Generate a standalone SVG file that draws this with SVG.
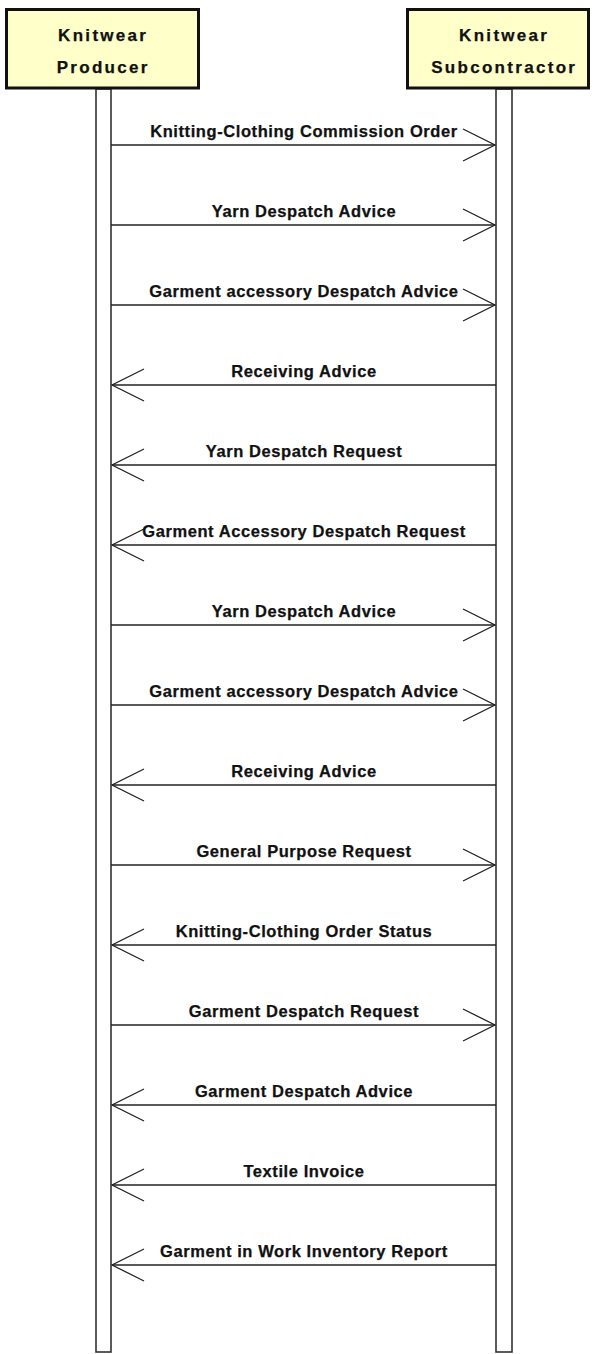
<svg xmlns="http://www.w3.org/2000/svg" width="596" height="1354" viewBox="0 0 596 1354">
<style>
.box{fill:#FFFFCA;stroke:#111;stroke-width:3}
.life{fill:#fff;stroke:#333;stroke-width:1.6}
.hd{font-family:"Liberation Sans",Arial,sans-serif;font-weight:bold;font-size:17px;letter-spacing:2.3px;fill:#111;stroke:#111;stroke-width:0.25;text-anchor:middle}
.msg{stroke:#222;stroke-width:1.6;fill:none;marker-end:url(#open)}
.lbl{font-family:"Liberation Sans",Arial,sans-serif;font-weight:bold;font-size:16.5px;letter-spacing:0.58px;fill:#111;stroke:#111;stroke-width:0.25;text-anchor:middle}
</style>
<defs>
<marker id="open" markerUnits="userSpaceOnUse" markerWidth="40" markerHeight="40" viewBox="-36 -20 40 40" refX="0" refY="0" orient="auto" overflow="visible">
<path d="M-32,-16 L0,0 L-32,16" fill="none" stroke="#222" stroke-width="1.3"/>
</marker>
</defs>
<rect width="596" height="1354" fill="#fff"/>
<g id="producer">
<rect class="life" x="96" y="89" width="15" height="1263"/>
<rect class="box" x="6.5" y="9.5" width="192" height="78.5"/>
<text class="hd" x="103.2" y="40.7">Knitwear</text>
<text class="hd" x="103.2" y="72.7">Producer</text>
</g>
<g id="subcontractor">
<rect class="life" x="496" y="89" width="16" height="1263"/>
<rect class="box" x="407.5" y="9.5" width="181" height="78.5"/>
<text class="hd" x="504.2" y="40.7">Knitwear</text>
<text class="hd" x="504.2" y="72.7">Subcontractor</text>
</g>
<g id="connectors">
<line class="msg" x1="111" y1="145" x2="495" y2="145"/>
<line class="msg" x1="111" y1="225" x2="495" y2="225"/>
<line class="msg" x1="111" y1="305" x2="495" y2="305"/>
<line class="msg" x1="496" y1="385" x2="112" y2="385"/>
<line class="msg" x1="496" y1="465" x2="112" y2="465"/>
<line class="msg" x1="496" y1="545" x2="112" y2="545"/>
<line class="msg" x1="111" y1="625" x2="495" y2="625"/>
<line class="msg" x1="111" y1="705" x2="495" y2="705"/>
<line class="msg" x1="496" y1="785" x2="112" y2="785"/>
<line class="msg" x1="111" y1="865" x2="495" y2="865"/>
<line class="msg" x1="496" y1="945" x2="112" y2="945"/>
<line class="msg" x1="111" y1="1025" x2="495" y2="1025"/>
<line class="msg" x1="496" y1="1105" x2="112" y2="1105"/>
<line class="msg" x1="496" y1="1185" x2="112" y2="1185"/>
<line class="msg" x1="496" y1="1265" x2="112" y2="1265"/>
</g>
<g id="labels">
<text class="lbl" x="304" y="136.5">Knitting-Clothing Commission Order</text>
<text class="lbl" x="304" y="216.5">Yarn Despatch Advice</text>
<text class="lbl" x="304" y="296.5">Garment accessory Despatch Advice</text>
<text class="lbl" x="304" y="376.5">Receiving Advice</text>
<text class="lbl" x="304" y="456.5">Yarn Despatch Request</text>
<text class="lbl" x="304" y="536.5">Garment Accessory Despatch Request</text>
<text class="lbl" x="304" y="616.5">Yarn Despatch Advice</text>
<text class="lbl" x="304" y="696.5">Garment accessory Despatch Advice</text>
<text class="lbl" x="304" y="776.5">Receiving Advice</text>
<text class="lbl" x="304" y="856.5">General Purpose Request</text>
<text class="lbl" x="304" y="936.5">Knitting-Clothing Order Status</text>
<text class="lbl" x="304" y="1016.5">Garment Despatch Request</text>
<text class="lbl" x="304" y="1096.5">Garment Despatch Advice</text>
<text class="lbl" x="304" y="1176.5">Textile Invoice</text>
<text class="lbl" x="304" y="1256.5">Garment in Work Inventory Report</text>
</g>
</svg>
